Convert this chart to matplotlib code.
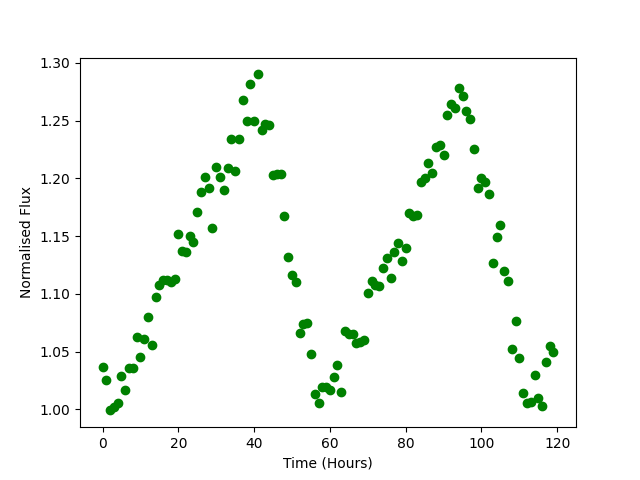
import numpy as np
import matplotlib
matplotlib.use('Agg')
import matplotlib.pyplot as plt

# === DATA ===
time_hours = np.arange(120)
flux = [
    1.037, 1.025, 0.999, 1.002, 1.005, 1.029, 1.017, 1.036, 1.036, 1.063,
    1.045, 1.061, 1.080, 1.056, 1.097, 1.108, 1.112, 1.112, 1.110, 1.113,
    1.152, 1.137, 1.136, 1.150, 1.145, 1.171, 1.188, 1.201, 1.192, 1.157,
    1.210, 1.201, 1.190, 1.209, 1.234, 1.206, 1.234, 1.268, 1.250, 1.282,
    1.250, 1.290, 1.242, 1.247, 1.246, 1.203, 1.204, 1.204, 1.167, 1.132,
    1.116, 1.110, 1.066, 1.074, 1.075, 1.048, 1.013, 1.005, 1.019, 1.019,
    1.017, 1.028, 1.038, 1.015, 1.068, 1.065, 1.065, 1.057, 1.058, 1.060,
    1.101, 1.111, 1.108, 1.107, 1.122, 1.131, 1.114, 1.136, 1.144, 1.128,
    1.140, 1.170, 1.167, 1.168, 1.197, 1.200, 1.213, 1.205, 1.227, 1.229,
    1.220, 1.255, 1.264, 1.261, 1.278, 1.271, 1.258, 1.251, 1.225, 1.192,
    1.200, 1.197, 1.186, 1.127, 1.149, 1.160, 1.120, 1.111, 1.052, 1.076,
    1.044, 1.014, 1.005, 1.006, 1.030, 1.010, 1.003, 1.041, 1.055, 1.050,
]

# === PLOT ===
plt.figure(figsize=(6.4, 4.8), dpi=100)
plt.plot(time_hours, flux, 'o', color='green')
plt.xlabel("Time (Hours)")
plt.ylabel("Normalised Flux")
plt.savefig('out.png')
